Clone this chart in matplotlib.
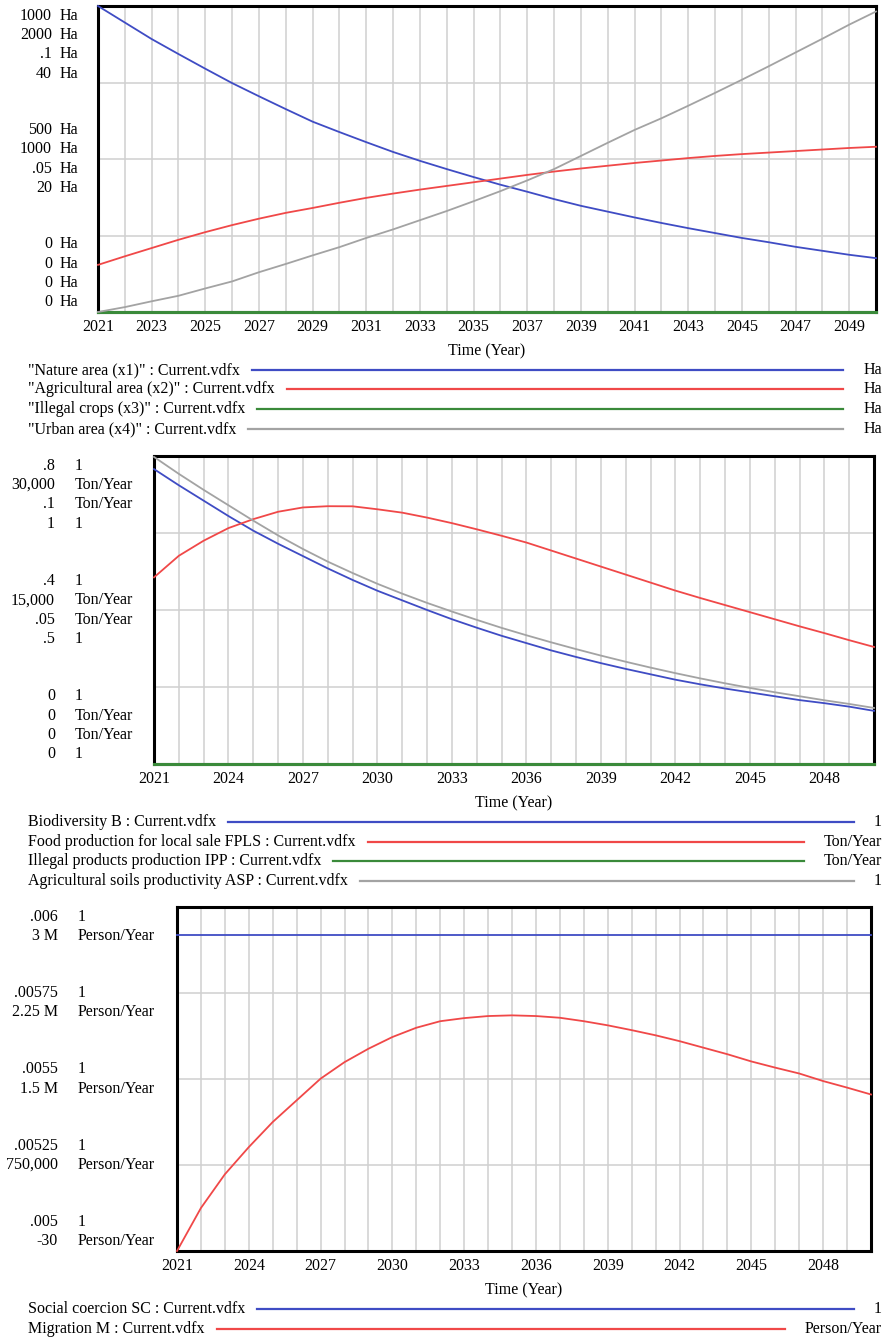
import matplotlib.pyplot as plt
from matplotlib.lines import Line2D

plt.rcParams['font.family'] = ['Liberation Serif', 'DejaVu Serif']

W, H = 888, 1340
FS = 11.5

years = list(range(2021, 2051))

# panel 1 - land use (Ha)
nature_area = [1000, 946, 892, 843, 795, 748, 705, 663, 622, 588, 555, 523, 494, 467, 441,
               416, 393, 369, 347, 328, 309, 291, 274, 258, 242, 228, 213, 200, 187, 176]
agricultural_area = [308, 364, 418, 472, 522, 568, 610, 648, 680, 714, 746, 774, 800, 824, 848,
                     872, 896, 918, 938, 956, 974, 990, 1006, 1020, 1032, 1042, 1052, 1062, 1072, 1080]
illegal_crops = [0, 0, 0, 0, 0, 0, 0, 0, 0, 0, 0, 0, 0, 0, 0,
                 0, 0, 0, 0, 0, 0, 0, 0, 0, 0, 0, 0, 0, 0, 0]
urban_area = [0, 0.64, 1.4, 2.12, 3.08, 4.0, 5.2, 6.28, 7.4, 8.48, 9.68, 10.8, 12.0, 13.2, 14.48,
              15.8, 17.2, 18.68, 20.4, 22.12, 23.8, 25.32, 26.96, 28.64, 30.36, 32.12, 33.92, 35.72, 37.56, 39.28]

# panel 2 - production
biodiversity = [0.766, 0.724, 0.684, 0.644, 0.606, 0.572, 0.540, 0.508, 0.478, 0.450, 0.425, 0.400, 0.376, 0.354, 0.333,
                0.314, 0.295, 0.278, 0.262, 0.247, 0.233, 0.219, 0.207, 0.196, 0.186, 0.176, 0.166, 0.158, 0.149, 0.138]
food_production = [18180, 20280, 21750, 22980, 23850, 24570, 24990, 25110, 25100, 24810, 24480, 24000, 23460, 22860, 22230,
                   21570, 20790, 20010, 19230, 18450, 17670, 16890, 16170, 15480, 14790, 14100, 13410, 12750, 12060, 11400]
illegal_products = [0, 0, 0, 0, 0, 0, 0, 0, 0, 0, 0, 0, 0, 0, 0,
                    0, 0, 0, 0, 0, 0, 0, 0, 0, 0, 0, 0, 0, 0, 0]
soil_productivity = [0.997, 0.942, 0.89, 0.84, 0.79, 0.742, 0.698, 0.657, 0.62, 0.585, 0.553, 0.523, 0.495, 0.468, 0.442,
                     0.418, 0.395, 0.373, 0.352, 0.332, 0.313, 0.295, 0.278, 0.262, 0.247, 0.233, 0.22, 0.207, 0.195, 0.182]

# panel 3 - social
social_coercion = [0.00592, 0.00592, 0.00592, 0.00592, 0.00592, 0.00592, 0.00592, 0.00592, 0.00592, 0.00592,
                   0.00592, 0.00592, 0.00592, 0.00592, 0.00592, 0.00592, 0.00592, 0.00592, 0.00592, 0.00592,
                   0.00592, 0.00592, 0.00592, 0.00592, 0.00592, 0.00592, 0.00592, 0.00592, 0.00592, 0.00592]
migration = [-30, 375000, 669000, 906000, 1125000, 1314000, 1503000, 1647000, 1764000, 1866000, 1947000, 2004000,
             2031000, 2049000, 2055000, 2049000, 2034000, 2004000, 1968000, 1926000, 1881000, 1830000, 1773000,
             1716000, 1653000, 1599000, 1548000, 1482000, 1425000, 1365000]

BLUE = '#3f4cc4'
RED = '#f04848'
GREEN = '#3a8a3a'
GRAY = '#a3a3a3'
GRID = '#d0d0d0'

panels = [
    dict(box=(98, 6, 876, 312),
         series=[nature_area, agricultural_area, illegal_crops, urban_area],
         scales=[(0, 1000), (0, 2000), (0, 0.1), (0, 40)],
         colors=[BLUE, RED, GREEN, GRAY],
         names=['"Nature area (x1)" : Current.vdfx', '"Agricultural area (x2)" : Current.vdfx',
                '"Illegal crops (x3)" : Current.vdfx', '"Urban area (x4)" : Current.vdfx'],
         units=['Ha', 'Ha', 'Ha', 'Ha'],
         label_fracs=[1, 0.5, 0],
         labels=[['1000', '500', '0'], ['2000', '1000', '0'], ['.1', '.05', '0'], ['40', '20', '0']],
         num_x=52, unit_x=60,
         xticks=list(range(2021, 2050, 2)),
         legend_y=[370, 389, 409, 429]),
    dict(box=(154, 456, 874, 764),
         series=[biodiversity, food_production, illegal_products, soil_productivity],
         scales=[(0, 0.8), (0, 30000), (0, 0.1), (0, 1)],
         colors=[BLUE, RED, GREEN, GRAY],
         names=['Biodiversity B : Current.vdfx', 'Food production for local sale FPLS : Current.vdfx',
                'Illegal products production IPP : Current.vdfx',
                'Agricultural soils productivity ASP : Current.vdfx'],
         units=['1', 'Ton/Year', 'Ton/Year', '1'],
         label_fracs=[1, 0.5, 0],
         labels=[['.8', '.4', '0'], ['30,000', '15,000', '0'], ['.1', '.05', '0'], ['1', '.5', '0']],
         num_x=55, unit_x=75,
         xticks=list(range(2021, 2050, 3)),
         legend_y=[822, 842, 861, 881]),
    dict(box=(177, 907, 871, 1251),
         series=[social_coercion, migration],
         scales=[(0.005, 0.006), (-30, 3000000)],
         colors=[BLUE, RED],
         names=['Social coercion SC : Current.vdfx', 'Migration M : Current.vdfx'],
         units=['1', 'Person/Year'],
         label_fracs=[1, 0.75, 0.5, 0.25, 0],
         labels=[['.006', '.00575', '.0055', '.00525', '.005'],
                 ['3 M', '2.25 M', '1.5 M', '750,000', '-30']],
         num_x=58, unit_x=78,
         xticks=list(range(2021, 2050, 3)),
         legend_y=[1309, 1329]),
]

fig = plt.figure(figsize=(W / 100, H / 100), dpi=100)
fig.patch.set_facecolor('white')

legend_items = []
STEP = 19.3

for p in panels:
    left, top, right, bottom = p['box']
    ax = fig.add_axes([left / W, 1 - bottom / H, (right - left) / W, (bottom - top) / H])
    ax.set_xlim(2021, 2050)
    ax.set_ylim(0, 1)
    ax.set_xticks(p['xticks'])
    ax.set_xticks(years, minor=True)
    ax.set_yticks([0, 0.25, 0.5, 0.75, 1])
    ax.set_yticklabels([])
    ax.grid(True, which='both', color=GRID, lw=1.1, zorder=0)
    ax.tick_params(which='both', length=0, labelsize=FS, pad=5)
    for s in ax.spines.values():
        s.set_linewidth(2.2)
        s.set_color('black')
    ax.set_xlabel('Time (Year)', fontsize=FS, labelpad=6)

    for vals, sc, col in zip(p['series'], p['scales'], p['colors']):
        tw = ax.twinx()
        tw.set_ylim(*sc)
        tw.axis('off')
        lw = 2.2 if col == GREEN else 1.3
        tw.plot(years, vals, color=col, lw=lw, clip_on=False)

    # stacked scale labels, Vensim style
    n = len(p['series'])
    h = bottom - top
    for gi, f in enumerate(p['label_fracs']):
        y_grid = top + (1 - f) * h
        center = y_grid + (2 * f - 1) * n * STEP / 2
        for i in range(n):
            y = center + (i - (n - 1) / 2) * STEP
            fig.text(p['num_x'] / W, 1 - y / H, p['labels'][i][gi], ha='right', va='center', fontsize=FS)
            fig.text(p['unit_x'] / W, 1 - y / H, p['units'][i], ha='left', va='center', fontsize=FS)

    for name, unit, col, y in zip(p['names'], p['units'], p['colors'], p['legend_y']):
        t1 = fig.text(28 / W, 1 - y / H, name, ha='left', va='center', fontsize=FS)
        t2 = fig.text(882 / W, 1 - y / H, unit, ha='right', va='center', fontsize=FS)
        legend_items.append((t1, t2, col, y))

fig.canvas.draw()
r = fig.canvas.get_renderer()
for t1, t2, col, y in legend_items:
    x0 = t1.get_window_extent(r).x1 + 12
    x1 = t2.get_window_extent(r).x0 - 20
    fig.add_artist(Line2D([x0 / W, x1 / W], [1 - y / H, 1 - y / H], transform=fig.transFigure,
                          color=col, lw=1.6))

fig.savefig('out.png', dpi=100, facecolor='white')
